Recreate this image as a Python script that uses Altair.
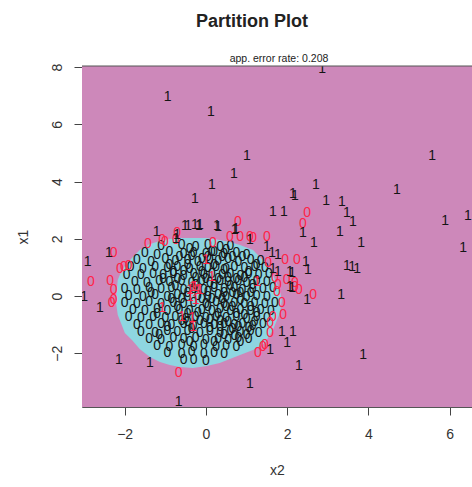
import altair as alt
import pandas as pd

# ---- axis ranges / ticks ----
X_DOMAIN = [-3.05, 6.55]
Y_DOMAIN = [-3.88, 8.04]
X_TICKS = [-2, 0, 2, 4, 6]
Y_TICKS = [-2, 0, 2, 4, 6, 8]

MAIN_TITLE = "Partition Plot"
SUB_TITLE = "app. error rate: 0.208"

# ---- class-0 partition region ----
region_x2 = [-2.22, -2.17, -2.12, -1.995, -1.82, -1.63, -1.38, -1.13, -0.89, -0.64,
             -0.32, 0.02, 0.34, 0.59, 0.84, 1.16, 1.45, 1.65, 1.82, 1.87]
region_upper = [-0.14, 0.56, 0.73, 1.05, 1.33, 1.61, 1.82, 1.92, 1.99, 2.03,
                2.03, 2.03, 1.96, 1.89, 1.78, 1.61, 1.19, 0.73, 0.21, -0.17]
region_lower = [-0.14, -0.66, -0.84, -1.29, -1.54, -1.85, -2.13, -2.31, -2.41, -2.48,
                -2.52, -2.45, -2.34, -2.20, -2.06, -1.89, -1.64, -1.19, -0.59, -0.17]

# ---- observations (x2, x1) ----
black0 = [
    (-1.1, 1.75), (-0.6, 1.8), (-0.25, 1.72), (0.05, 1.78), (0.35, 1.7), (0.6, 1.76),
    (-1.5, 1.5), (-1.2, 1.45), (-0.9, 1.55), (-0.55, 1.48), (-0.3, 1.52), (0.0, 1.46),
    (0.2, 1.55), (0.45, 1.47), (0.75, 1.52), (1.0, 1.45),
    (-1.7, 1.25), (-1.35, 1.2), (-1.0, 1.28), (-0.75, 1.22), (-0.45, 1.27), (-0.2, 1.2),
    (0.1, 1.26), (0.3, 1.21), (0.55, 1.28), (0.8, 1.2), (1.1, 1.25), (1.35, 1.22),
    (-1.85, 1.0), (-1.55, 0.96), (-1.25, 1.03), (-0.95, 0.97), (-0.7, 1.02), (-0.4, 0.95),
    (-0.15, 1.01), (0.05, 0.97), (0.25, 1.03), (0.5, 0.96), (0.7, 1.02), (0.95, 0.98),
    (1.2, 1.03), (1.45, 0.97),
    (-1.95, 0.75), (-1.6, 0.72), (-1.3, 0.78), (-1.05, 0.73), (-0.8, 0.77), (-0.55, 0.71),
    (-0.3, 0.76), (-0.05, 0.73), (0.15, 0.78), (0.4, 0.72), (0.6, 0.76), (0.85, 0.71),
    (1.05, 0.77), (1.3, 0.73), (1.55, 0.76),
    (-1.75, 0.5), (-1.45, 0.47), (-1.15, 0.53), (-0.9, 0.48), (-0.6, 0.52), (-0.35, 0.46),
    (-0.1, 0.51), (0.1, 0.47), (0.35, 0.53), (0.55, 0.48), (0.8, 0.52), (1.0, 0.46),
    (1.25, 0.51), (1.5, 0.48),
    (-2.0, 0.25), (-1.7, 0.22), (-1.4, 0.28), (-1.1, 0.23), (-0.85, 0.27), (-0.55, 0.21),
    (-0.3, 0.26), (-0.05, 0.22), (0.2, 0.28), (0.45, 0.23), (0.7, 0.27), (0.9, 0.21),
    (1.15, 0.26), (1.4, 0.23), (1.65, 0.27),
    (-1.9, 0.0), (-1.55, -0.03), (-1.25, 0.03), (-0.95, -0.02), (-0.7, 0.02), (-0.45, -0.04),
    (-0.2, 0.01), (0.05, -0.03), (0.3, 0.03), (0.5, -0.02), (0.75, 0.02), (1.0, -0.04),
    (1.25, 0.01), (1.5, -0.03),
    (-2.0, -0.25), (-1.7, -0.28), (-1.4, -0.22), (-1.1, -0.27), (-0.8, -0.23), (-0.55, -0.29),
    (-0.3, -0.24), (0.0, -0.28), (0.25, -0.22), (0.45, -0.27), (0.7, -0.23), (0.95, -0.29),
    (1.2, -0.24), (1.45, -0.27), (1.7, -0.23),
    (-1.8, -0.5), (-1.5, -0.53), (-1.2, -0.47), (-0.95, -0.52), (-0.65, -0.48), (-0.4, -0.54),
    (-0.1, -0.49), (0.15, -0.53), (0.35, -0.47), (0.6, -0.52), (0.85, -0.48), (1.1, -0.54),
    (1.35, -0.49), (1.6, -0.52),
    (-1.9, -0.75), (-1.6, -0.78), (-1.3, -0.72), (-1.0, -0.77), (-0.75, -0.73), (-0.5, -0.79),
    (-0.25, -0.74), (0.0, -0.78), (0.25, -0.72), (0.5, -0.77), (0.75, -0.73), (1.0, -0.79),
    (1.25, -0.74), (1.5, -0.77),
    (-1.7, -1.0), (-1.4, -1.03), (-1.1, -0.97), (-0.85, -1.02), (-0.55, -0.98), (-0.3, -1.04),
    (-0.05, -0.99), (0.2, -1.03), (0.45, -0.97), (0.7, -1.02), (0.9, -0.98), (1.15, -1.04),
    (1.4, -0.99),
    (-1.6, -1.25), (-1.25, -1.28), (-0.95, -1.22), (-0.7, -1.27), (-0.45, -1.23), (-0.15, -1.29),
    (0.1, -1.24), (0.35, -1.28), (0.6, -1.22), (0.85, -1.27), (1.1, -1.23), (1.3, -1.28),
    (-1.4, -1.5), (-1.1, -1.53), (-0.8, -1.47), (-0.55, -1.52), (-0.25, -1.48), (0.0, -1.54),
    (0.3, -1.49), (0.55, -1.53), (0.8, -1.47), (1.05, -1.52),
    (-1.2, -1.75), (-0.9, -1.78), (-0.6, -1.72), (-0.3, -1.77), (-0.05, -1.73), (0.25, -1.79),
    (0.5, -1.74), (0.75, -1.77),
    (-0.95, -2.0), (-0.6, -2.03), (-0.35, -1.97), (-0.05, -2.02), (0.2, -1.98), (0.45, -2.03),
    (-0.55, -2.25), (-0.3, -2.22), (0.0, -2.27),
    (-0.45, 1.1), (-0.1, 0.85), (0.2, 1.1), (0.45, 0.9), (0.75, 0.6), (0.3, 0.6),
    (-0.25, 0.4), (0.6, 0.35), (0.05, 0.15), (0.85, 0.1), (-0.6, -0.1), (0.4, -0.1),
    (0.65, -0.4), (-0.2, -0.6), (0.1, -0.85), (0.55, -0.9), (0.8, -1.1), (0.95, -0.65),
    (1.2, -0.9), (0.35, -1.1), (-0.45, -0.9), (-0.7, 0.6), (-0.9, 1.1), (1.05, 0.85),
    (1.25, 1.1), (0.9, 1.35), (1.0, -1.35), (0.7, -1.4), (-0.1, 1.3), (0.15, 1.55),
    (-0.4, 1.65), (0.5, 1.6),
    (-0.65, 1.35), (-0.35, 1.4), (0.05, 1.38), (0.4, 1.35), (0.65, 1.38), (-0.8, 0.85),
    (-0.55, 0.88), (-0.25, 0.62), (0.0, 0.6), (0.55, 0.62), (0.95, 0.62), (1.15, 0.4),
    (-0.75, 0.35), (-0.45, 0.12), (0.2, 0.38), (0.45, 0.1), (0.65, 0.12), (1.1, 0.1),
    (-0.85, -0.12), (-0.1, -0.12), (0.15, -0.1), (0.85, -0.15), (1.1, -0.38), (-0.7, -0.38),
    (-0.45, -0.62), (0.05, -0.38), (0.3, -0.62), (0.5, -0.38), (0.75, -0.62), (1.25, -0.6),
    (-0.6, -0.88), (-0.15, -0.88), (0.35, -0.88), (0.65, -1.15), (1.05, -1.12), (0.1, -1.12),
    (-0.35, -1.15), (0.45, -1.38), (0.85, -1.62), (0.2, -1.62), (-0.4, -1.62), (-0.95, -1.1),
    (-1.2, -0.62), (-1.35, 0.12), (-1.05, 0.6), (-1.15, -1.38),
]

red0 = [
    (2.49, 2.90), (2.39, 2.52), (2.19, 0.45), (2.29, 0.21), (2.64, 0.03), (1.87, -0.24),
    (1.90, -0.66), (1.58, -0.94), (1.58, -1.29), (1.45, -1.71), (1.28, -2.0), (-2.32, -0.24),
    (-0.67, -2.69), (-1.43, 1.82), (-1.08, 1.96), (-2.27, 1.5), (-2.83, 0.49), (-2.36, 0.52),
    (-2.27, 0.21), (-2.12, 0.94), (-2.02, 1.01), (-1.9, 1.05), (-2.27, -0.14), (-1.01, 1.89),
    (-0.74, 1.96), (0.79, 2.59), (0.59, 2.06), (0.84, 2.06), (1.08, 2.06), (0.17, 1.85),
    (1.5, 2.06), (1.95, 1.26), (2.24, 1.26), (1.53, 1.15), (1.70, 0.63), (1.99, 0.56),
    (1.75, 0.14), (2.19, 0.31), (1.16, 2.03), (-0.71, 2.2), (1.77, 0.38), (1.65, -0.73),
    (1.4, -1.78),
]

black1 = [
    (2.86, 7.94), (-0.94, 6.96), (0.12, 6.43), (1.01, 4.90), (5.57, 4.90), (0.69, 4.27),
    (0.15, 3.88), (2.71, 3.88), (4.70, 3.71), (-0.27, 3.39), (2.14, 3.57), (2.19, 3.50),
    (2.96, 3.32), (3.35, 3.29), (1.65, 2.94), (1.92, 2.94), (3.47, 2.90), (3.62, 2.59),
    (5.89, 2.62), (6.45, 2.80), (2.39, 2.20), (3.30, 2.24), (-0.52, 2.45), (-0.44, 2.45),
    (-0.17, 2.45), (0.30, 2.41), (0.74, 2.34), (-1.21, 2.24), (-0.71, 2.13), (2.66, 1.85),
    (3.82, 1.85), (6.33, 1.68), (2.46, 1.19), (2.51, 0.91), (2.12, 0.80), (3.47, 1.05),
    (3.60, 1.01), (3.72, 0.94), (2.12, 0.28), (2.49, -0.14), (3.33, 0.03), (2.14, -1.26),
    (3.87, -2.06), (2.29, -2.45), (1.87, -1.26), (2.0, -1.64), (1.58, -1.89), (1.08, -3.08),
    (-2.61, -0.42), (-2.14, -2.24), (-1.38, -2.34), (-0.67, -3.71), (-2.91, 1.19), (-2.39, 1.50),
    (-0.74, 2.0), (-3.0, -0.03), (-0.27, 2.48), (-0.15, 2.48), (0.27, 2.45), (0.71, 2.31),
    (1.08, 1.96), (1.50, 1.71), (1.63, 1.5), (1.77, 1.43), (1.65, 0.94), (1.77, 0.84),
    (2.07, 0.84), (2.07, 0.31),
]

red1 = [
    (0.0, 1.26), (0.15, 0.66), (-0.32, 0.31), (-0.15, 0.21), (1.26, 0.49), (-1.08, -0.42),
    (-0.59, -0.73), (-0.34, -0.77), (-0.32, -1.08), (-0.39, 0.21), (-0.27, 0.31), (-0.2, 0.21),
    (-0.39, -0.03), (-0.25, -0.14),
]

MAGENTA = "#CD88BA"
CYAN = "#8ED6E1"
BLACK = "#151515"
RED = "#FF2448"
FONT = "Liberation Sans"


def frame(points, label, color):
    return pd.DataFrame({
        "x2": [p[0] for p in points],
        "x1": [p[1] for p in points],
        "lab": label,
        "col": color,
    })


pts = pd.concat([
    frame(black0, "0", BLACK),
    frame(red0, "0", RED),
    frame(black1, "1", BLACK),
    frame(red1, "1", RED),
], ignore_index=True)
pts["order"] = range(len(pts))

region = pd.DataFrame({"x2": region_x2, "x1": region_upper, "x1_lo": region_lower})

x_axis = alt.Axis(values=X_TICKS, grid=False, tickSize=8, tickColor="#444",
                  domainColor="#555", labelFont=FONT, labelFontSize=14, labelColor="#333",
                  labelPadding=12, title="x2", titleFont=FONT, titleFontSize=14,
                  titleFontWeight="normal", titleColor="#333", titlePadding=22)
y_axis = alt.Axis(values=Y_TICKS, grid=False, tickSize=8, tickColor="#444",
                  domainColor="#555", labelFont=FONT, labelFontSize=14, labelColor="#333",
                  labelAngle=-90, labelAlign="center", labelBaseline="bottom",
                  labelPadding=10, title="x1", titleFont=FONT, titleFontSize=14,
                  titleFontWeight="normal", titleColor="#333", titlePadding=20)

xs = alt.Scale(domain=X_DOMAIN, nice=False, zero=False)
ys = alt.Scale(domain=Y_DOMAIN, nice=False, zero=False)

background = alt.Chart(pd.DataFrame({"b": [0]})).mark_rect(color=MAGENTA).encode(
    x=alt.value(0), x2=alt.value(390), y=alt.value(0), y2=alt.value(341)
)

area = alt.Chart(region).mark_area(color=CYAN, opacity=1, clip=True).encode(
    x=alt.X("x2:Q", scale=xs, axis=x_axis),
    y=alt.Y("x1:Q", scale=ys, axis=y_axis),
    y2="x1_lo:Q",
)

labels = alt.Chart(pts).mark_text(font=FONT, fontSize=14, clip=True).encode(
    x=alt.X("x2:Q", scale=xs, axis=x_axis),
    y=alt.Y("x1:Q", scale=ys, axis=y_axis),
    text="lab:N",
    color=alt.Color("col:N", scale=None),
    order="order:Q",
)

top_border = alt.Chart(pd.DataFrame({"b": [0]})).mark_rule(color="#555", strokeWidth=1).encode(
    x=alt.value(0), x2=alt.value(390), y=alt.value(0)
)

main_title = alt.Chart(pd.DataFrame({"t": [MAIN_TITLE]})).mark_text(
    font=FONT, fontSize=18, fontWeight="bold", color="#222", baseline="alphabetic"
).encode(x=alt.value(170), y=alt.value(-39), text="t:N")

sub_title = alt.Chart(pd.DataFrame({"t": [SUB_TITLE]})).mark_text(
    font=FONT, fontSize=10.5, color="#222", baseline="alphabetic"
).encode(x=alt.value(197), y=alt.value(-4), text="t:N")

chart = alt.layer(background, area, labels, top_border, main_title, sub_title).properties(
    width=390, height=341,
    padding={"left": 82, "top": 66, "right": 0, "bottom": 80},
    autosize=alt.AutoSizeParams(type="none"),
).configure(background="white").configure_view(stroke=None)

chart.save("out.html", embed_options={"renderer": "svg", "actions": False})
